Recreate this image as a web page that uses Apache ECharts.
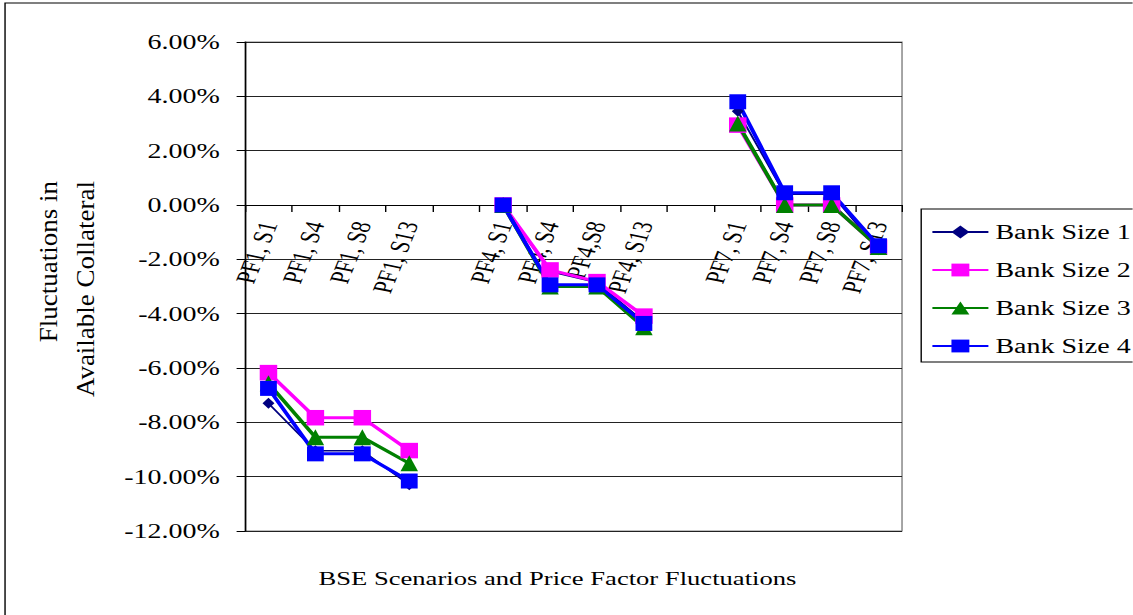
<!DOCTYPE html>
<html>
<head>
<meta charset="utf-8">
<script src="https://cdn.jsdelivr.net/npm/echarts@6/dist/echarts.min.js"></script>
<style>
  html, body { margin: 0; padding: 0; background: #fff; overflow: hidden; }
  #wrap { width: 1133px; height: 615px; overflow: hidden; position: relative; }
  /* the chart is laid out on a narrower canvas and widened, giving the broad serif lettering */
  #chart { width: 809px; height: 615px; transform: scaleX(1.4); transform-origin: 0 0; }
</style>
</head>
<body>
<div id="wrap"><div id="chart"></div></div>
<script>
// Scenario / price-factor categories (blank entries separate the three groups)
const categories = [
  'PF1, S1', 'PF1, S4', 'PF1, S8', 'PF1, S13', '',
  'PF4, S1', 'PF4, S4', 'PF4,S8', 'PF4, S13', '',
  'PF7, S1', 'PF7, S4', 'PF7, S8', 'PF7, S13'
];

// Fluctuations in available collateral, in percent
const bankSize1 = [-7.30, -9.05, -9.05, -10.30, null, 0.00, -2.45, -2.85, -4.30, null, 3.45, 0.40, 0.40, -1.65];
const bankSize2 = [-6.17, -7.83, -7.83, -9.04, null, 0.00, -2.39, -2.82, -4.09, null, 2.94, 0.00, 0.00, -1.55];
const bankSize3 = [-6.56, -8.55, -8.55, -9.51, null, 0.00, -3.00, -3.00, -4.50, null, 3.00, 0.00, 0.00, -1.55];
const bankSize4 = [-6.75, -9.16, -9.16, -10.16, null, 0.00, -2.94, -2.94, -4.36, null, 3.80, 0.45, 0.45, -1.50];

// Value axis range and step (percent)
const yMin = -12;
const yMax = 6;
const yStep = 2;

const seriesNames = ['Bank Size 1', 'Bank Size 2', 'Bank Size 3', 'Bank Size 4'];
const xTitle = 'BSE Scenarios and Price Factor Fluctuations';
const yTitle = 'Fluctuations in\nAvailable Collateral';

const FONT = '"Liberation Serif", "Times New Roman", serif';

// plot box
const GRID_TOP = 42;
const GRID_HEIGHT = 489;
// the category axis sits on the 0% line: shift it up from the bottom edge
const zeroFromBottom = GRID_HEIGHT * (0 - yMin) / (yMax - yMin);

const chart = echarts.init(document.getElementById('chart'), null, { renderer: 'svg' });

function lineSeries(name, data, color, width, symbol, size) {
  return {
    name: name,
    type: 'line',
    data: data,
    symbol: symbol,
    symbolSize: size,
    showSymbol: true,
    showAllSymbol: true,
    connectNulls: false,
    lineStyle: { color: color, width: width },
    itemStyle: { color: color, borderWidth: 0 },
    emphasis: { disabled: true },
    animation: false
  };
}

chart.setOption({
  backgroundColor: '#fff',
  animation: false,
  grid: {
    left: 175, top: GRID_TOP, width: 469.3, height: GRID_HEIGHT,
    show: true, borderColor: '#808080', borderWidth: 1,
    containLabel: false, outerBoundsMode: 'none'
  },
  legend: {
    orient: 'vertical',
    left: 658, top: 209,
    padding: [13, 12, 6, 7],
    itemWidth: 40, itemHeight: 16, itemGap: 18,
    borderColor: '#000', borderWidth: 1, borderRadius: 0,
    backgroundColor: '#fff',
    textStyle: { fontFamily: FONT, fontSize: 20, color: '#000', lineHeight: 20 },
    data: seriesNames
  },
  xAxis: {
    type: 'category',
    data: categories,
    boundaryGap: true,
    position: 'bottom',
    offset: -zeroFromBottom,
    axisLine: { onZero: false, lineStyle: { color: '#000', width: 1 } },
    axisTick: { show: true, inside: false, length: 7, alignWithLabel: false, interval: 0, lineStyle: { color: '#000' } },
    axisLabel: { interval: 0, rotate: 74, margin: 17, fontFamily: FONT, fontSize: 20, color: '#000' },
    splitLine: { show: false },
    name: xTitle,
    nameLocation: 'middle',
    nameGap: 364,
    nameTextStyle: { fontFamily: FONT, fontSize: 19, color: '#000', padding: [0, 23, 0, 0] }
  },
  yAxis: {
    type: 'value',
    min: yMin, max: yMax, interval: yStep,
    axisLine: { show: true, lineStyle: { color: '#000', width: 1 } },
    axisTick: { show: true, inside: false, length: 6, lineStyle: { color: '#000' } },
    axisLabel: {
      margin: 18, fontFamily: FONT, fontSize: 20, color: '#000',
      formatter: function (v) { return v.toFixed(2) + '%'; }
    },
    splitLine: { show: true, lineStyle: { color: '#222', width: 1 } }
  },
  graphic: [
    {
      type: 'rect', silent: true, z: -1,
      shape: { x: 3.6, y: 3, width: 2000, height: 2000 },
      style: { fill: 'none', stroke: '#000', lineWidth: 1 }
    },
    {
      type: 'text', silent: true,
      x: 48, y: 181, rotation: Math.PI / 2, scaleX: 1.5, scaleY: 1,
      style: {
        text: yTitle, font: '18px ' + FONT, fill: '#000',
        align: 'right', verticalAlign: 'middle', lineHeight: 26
      }
    }
  ],
  series: [
    lineSeries(seriesNames[0], bankSize1, '#000080', 1.5, 'diamond', [8.5, 11]),
    lineSeries(seriesNames[1], bankSize2, '#FF00FF', 3, 'rect', [12.5, 15.5]),
    lineSeries(seriesNames[2], bankSize3, '#008000', 3, 'triangle', [12.5, 16]),
    lineSeries(seriesNames[3], bankSize4, '#0000FF', 3, 'rect', [12, 15])
  ]
});
</script>
</body>
</html>
